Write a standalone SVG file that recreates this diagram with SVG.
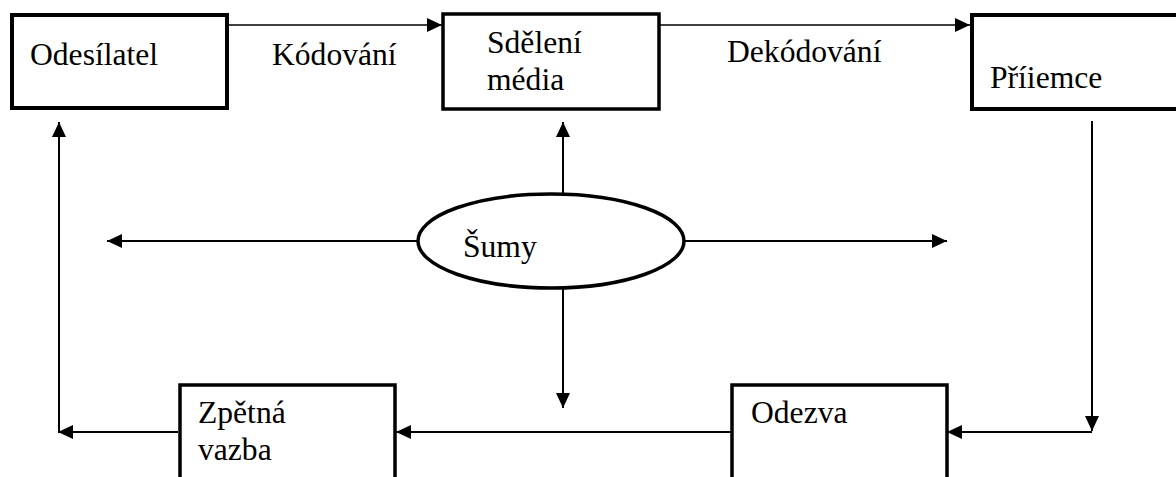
<svg xmlns="http://www.w3.org/2000/svg" width="1176" height="477" viewBox="0 0 1176 477">
<style>
.box{fill:#fff;stroke:#000;stroke-width:3.5}
.thick{stroke-width:4}
.t{font-family:"Liberation Serif","Times New Roman",serif;font-size:31.6px;fill:#000}
.c{stroke:#000;stroke-width:2;fill:none}
.thin{stroke-width:1.6}
</style>
<defs>
<marker id="ah" markerUnits="userSpaceOnUse" markerWidth="16" markerHeight="16" refX="15" refY="7" orient="auto">
<path d="M0,0 L15,7 L0,14 Z" fill="#000"/>
</marker>
</defs>
<g id="connectors">
<line class="c thin" x1="228" y1="25" x2="442" y2="25" marker-end="url(#ah)"/>
<line class="c thin" x1="660" y1="25" x2="970" y2="25" marker-end="url(#ah)"/>
<line class="c" x1="1092" y1="121" x2="1092" y2="431" marker-end="url(#ah)"/>
<line class="c" x1="1092" y1="432" x2="947" y2="432" marker-end="url(#ah)"/>
<line class="c" x1="731" y1="432" x2="396" y2="432" marker-end="url(#ah)"/>
<line class="c" x1="178" y1="432" x2="58" y2="432" marker-end="url(#ah)"/>
<line class="c" x1="59" y1="432" x2="59" y2="122" marker-end="url(#ah)"/>
<line class="c" x1="563" y1="193" x2="563" y2="122" marker-end="url(#ah)"/>
<line class="c" x1="418" y1="241" x2="107" y2="241" marker-end="url(#ah)"/>
<line class="c" x1="685" y1="241" x2="947" y2="241" marker-end="url(#ah)"/>
<line class="c" x1="563" y1="288" x2="563" y2="408" marker-end="url(#ah)"/>
</g>
<g id="odesilatel">
<rect class="box thick" x="12" y="15" width="215" height="93"/>
<text class="t" x="30" y="65">Odesílatel</text>
</g>
<text class="t" x="272" y="65">Kódování</text>
<g id="sdeleni">
<rect class="box" x="443" y="14" width="216" height="95"/>
<text class="t" x="487" y="53">Sdělení</text>
<text class="t" x="487" y="90">média</text>
</g>
<text class="t" x="727" y="62">Dekódování</text>
<g id="prijemce">
<rect class="box thick" x="972" y="15" width="220" height="94"/>
<text class="t" x="990" y="88">Příiemce</text>
</g>
<g id="sumy">
<ellipse cx="551" cy="241" rx="133" ry="47" fill="#fff" stroke="#000" stroke-width="3.5"/>
<text class="t" x="463" y="257">Šumy</text>
</g>
<g id="zpetna">
<rect class="box" x="180" y="385" width="215" height="120"/>
<text class="t" x="198" y="423">Zpětná</text>
<text class="t" x="198" y="460">vazba</text>
</g>
<g id="odezva">
<rect class="box" x="732" y="385" width="215" height="120"/>
<text class="t" x="751" y="423">Odezva</text>
</g>
</svg>
